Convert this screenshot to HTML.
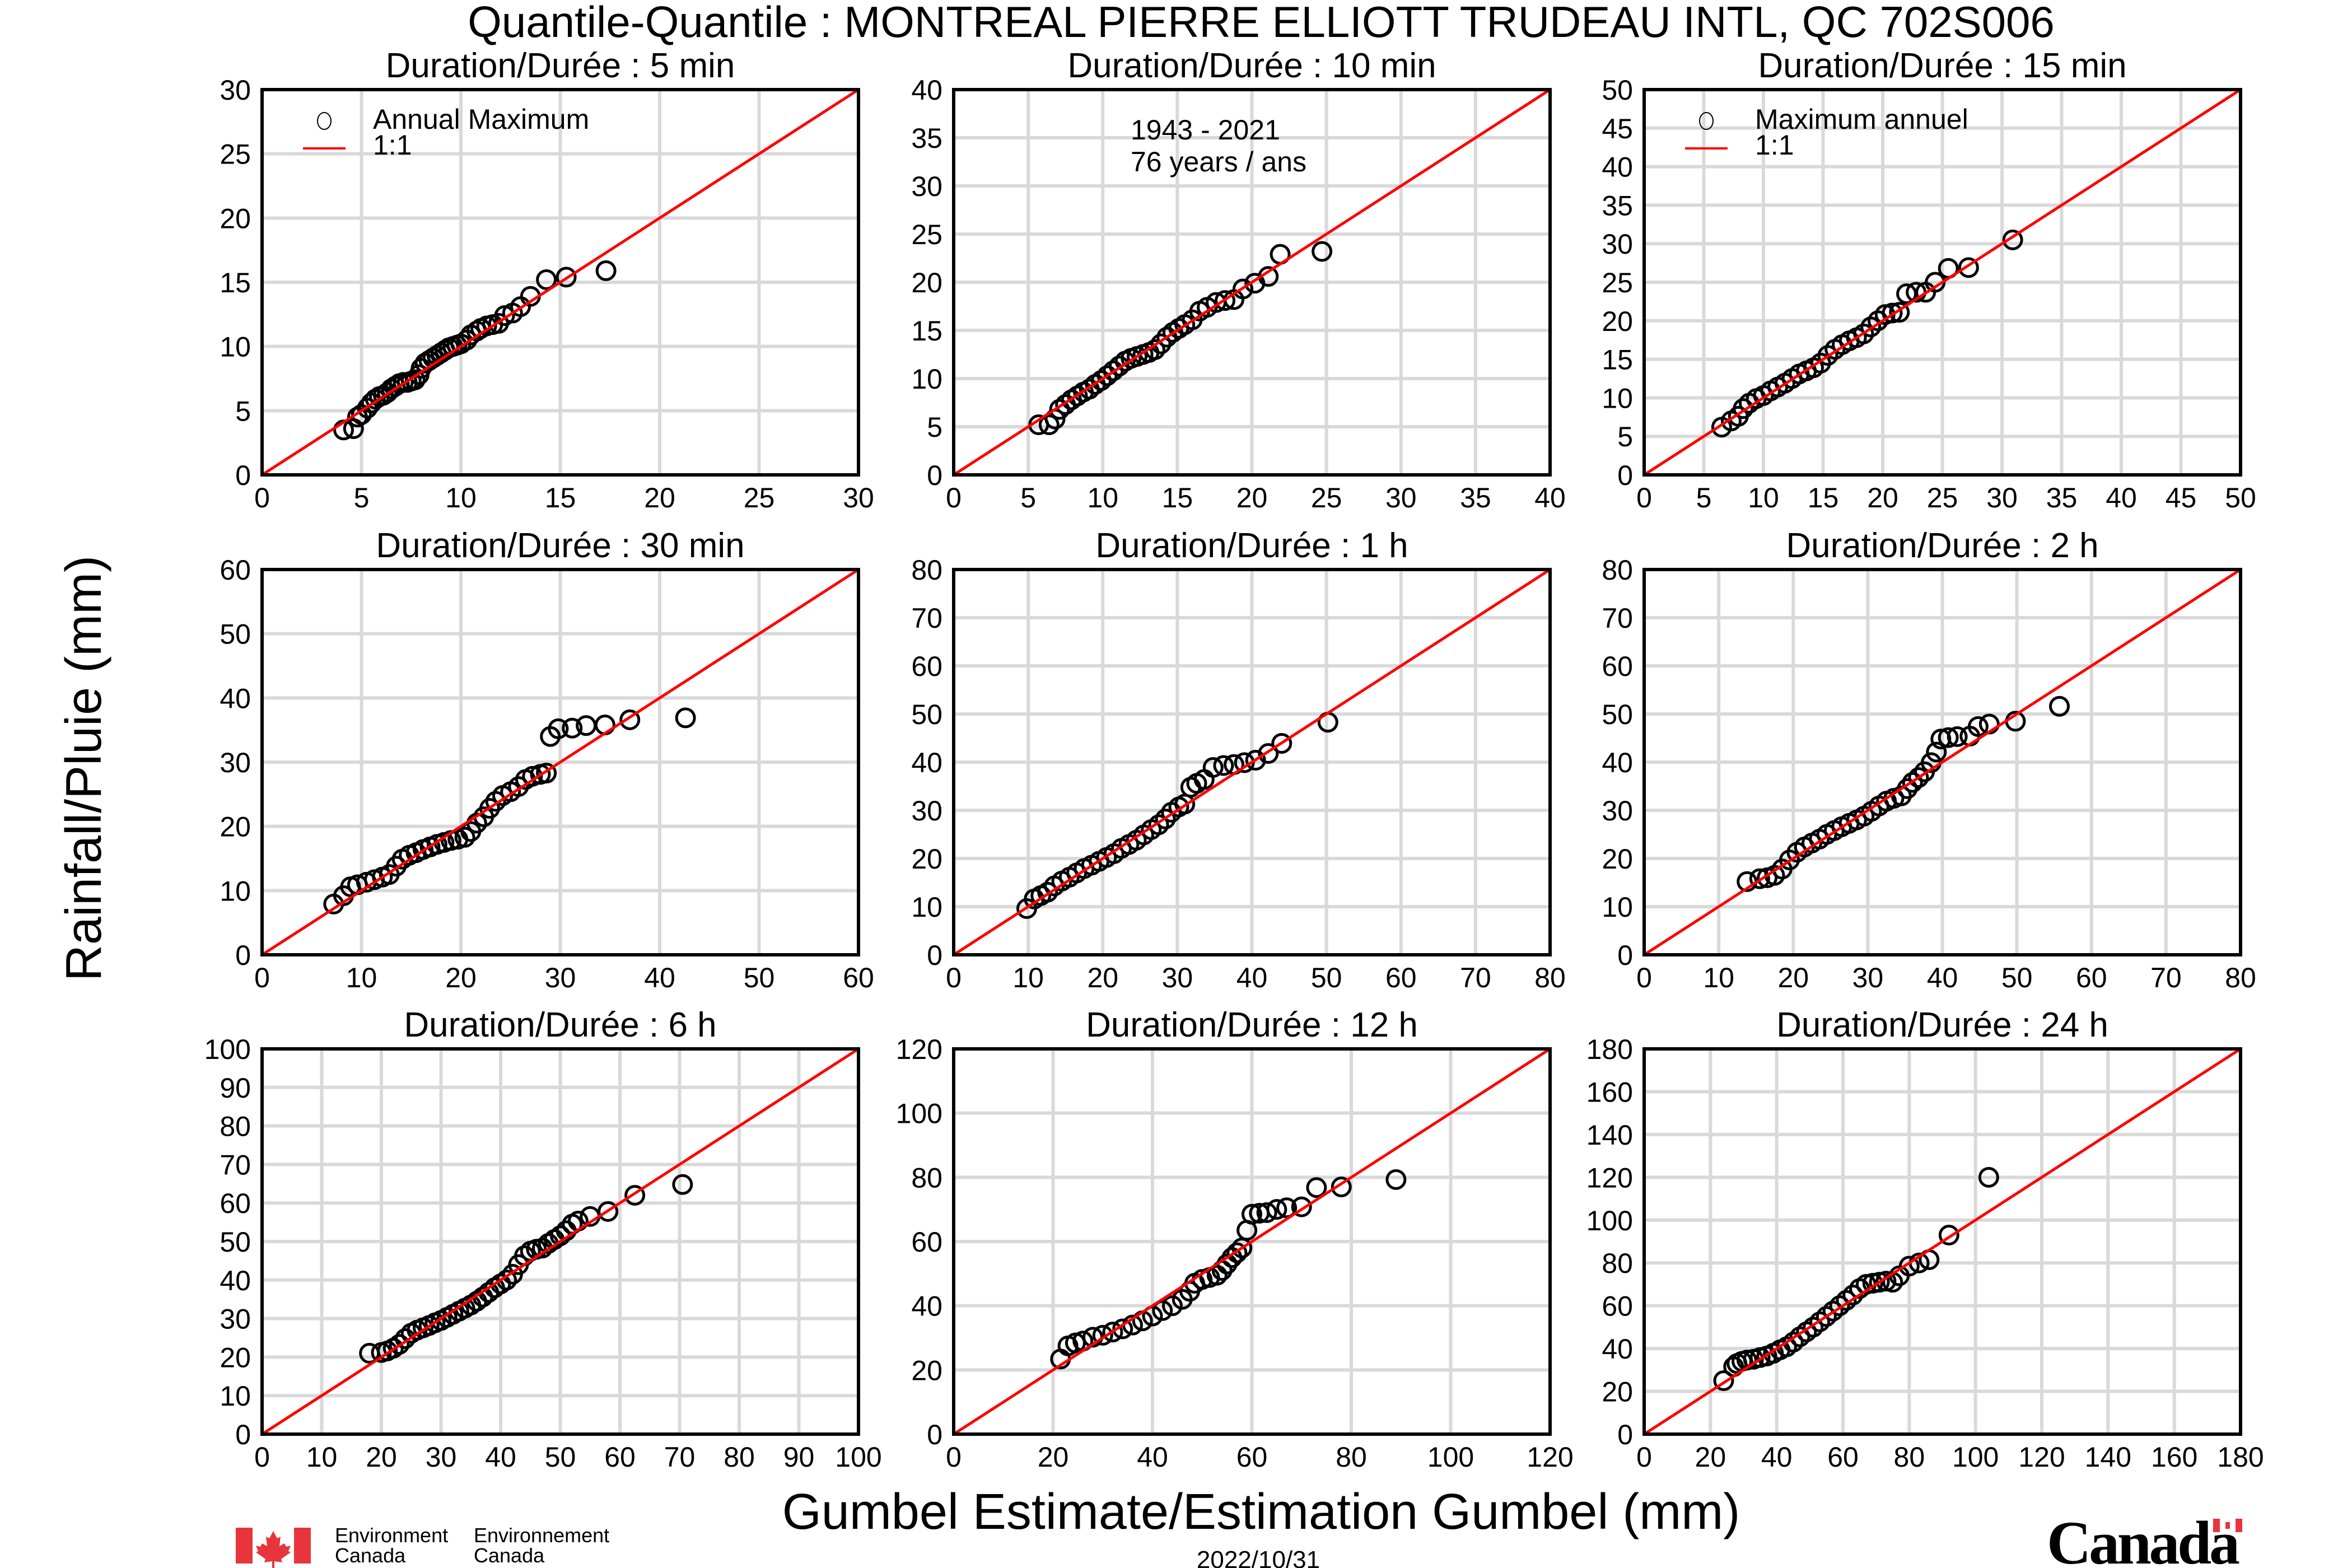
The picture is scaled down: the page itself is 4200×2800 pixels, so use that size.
<!DOCTYPE html>
<html><head><meta charset="utf-8"><style>
html,body{margin:0;padding:0;background:#fff}
svg{display:block}
text{font-family:"Liberation Sans",sans-serif;fill:#000}
</style></head><body>
<svg id="chart" xmlns="http://www.w3.org/2000/svg" width="4200" height="2800" viewBox="0 0 4200 2800">
<rect width="4200" height="2800" fill="#fff"/>
<text x="2252" y="66" font-size="78" text-anchor="middle">Quantile-Quantile : MONTREAL PIERRE ELLIOTT TRUDEAU INTL, QC  702S006</text>
<text x="0" y="0" font-size="90" text-anchor="middle" transform="translate(180,1372) rotate(-90)">Rainfall/Pluie (mm)</text>
<text x="2252" y="2730" font-size="90" text-anchor="middle">Gumbel Estimate/Estimation Gumbel (mm)</text>
<text x="2247" y="2800" font-size="44" text-anchor="middle">2022/10/31</text>
<g>
<rect x="421" y="2728" width="30" height="64" fill="#e8353b"/>
<rect x="525" y="2728" width="30" height="64" fill="#e8353b"/>
<path d="M488 2734 l-7 13 -6 -3 2 17 -9 -5 -3 6 -8 -2 4 10 -4 2 17 12 -2 6 14 -2 0 12 4 0 0 -12 14 2 -2 -6 17 -12 -4 -2 4 -10 -8 2 -3 -6 -9 5 2 -17 -6 3z" fill="#e8353b"/>
<text x="598" y="2754" font-size="36">Environment</text>
<text x="598" y="2790" font-size="36">Canada</text>
<text x="846" y="2754" font-size="36">Environnement</text>
<text x="846" y="2790" font-size="36">Canada</text>
</g>
<g>
<text x="3655" y="2792" font-size="110" style="font-family:'Liberation Serif',serif" font-weight="bold" textLength="345">Canada</text>
<rect x="3952" y="2712" width="12" height="24" fill="#e8353b"/>
<rect x="3992" y="2712" width="12" height="24" fill="#e8353b"/>
<rect x="3974" y="2718" width="8" height="12" fill="#e8353b"/>
</g>
<g id="panels"></g>
</svg>
<script>
const titles=["5 min","10 min","15 min","30 min","1 h","2 h","6 h","12 h","24 h"];
const axisMax=[30,40,50,60,80,80,100,120,180];
const tickStep=[5,5,5,10,10,10,10,20,20];
const x5=[4.1,4.6,4.8,5.0,5.3,5.5,5.7,5.9,6.1,6.3,6.5,6.7,6.9,7.1,7.3,7.5,7.7,7.9,8.0,8.2,8.4,8.6,8.8,9.0,9.2,9.4,9.6,9.8,10.0,10.3,10.5,10.8,11.0,11.3,11.6,11.9,12.2,12.6,13.0,13.5,14.3,15.3,17.3];
const y5=[3.5,3.6,4.5,4.7,5.2,5.6,5.9,6.1,6.2,6.4,6.7,6.9,7.1,7.2,7.2,7.3,7.4,7.8,8.3,8.7,8.9,9.1,9.3,9.5,9.7,9.9,10.0,10.1,10.2,10.5,10.9,11.2,11.4,11.6,11.7,11.8,12.4,12.6,13.1,13.9,15.2,15.4,15.9];
const x10=[5.7,6.4,6.8,7.1,7.5,7.9,8.3,8.7,9.1,9.5,9.9,10.3,10.7,11.1,11.5,11.9,12.3,12.7,13.1,13.5,13.9,14.3,14.7,15.1,15.5,16.0,16.5,17.0,17.6,18.2,18.8,19.4,20.2,21.1,21.9,24.7];
const y10=[5.2,5.2,5.8,6.8,7.3,7.8,8.2,8.6,8.9,9.4,9.8,10.3,10.8,11.3,11.8,12.1,12.3,12.5,12.7,13.0,13.6,14.3,14.8,15.2,15.6,16.1,17.0,17.4,17.9,18.1,18.2,19.3,19.9,20.6,22.9,23.2];
const x15=[6.5,7.3,7.9,8.3,8.8,9.4,10.0,10.6,11.2,11.8,12.4,13.0,13.6,14.2,14.8,15.4,16.0,16.6,17.2,17.8,18.4,19.0,19.6,20.2,20.8,21.4,22.0,22.8,23.6,24.4,25.5,27.2,30.9];
const y15=[6.2,7.0,7.6,8.6,9.3,9.9,10.3,10.9,11.4,11.9,12.5,13.1,13.5,13.9,14.5,15.5,16.3,16.9,17.4,17.8,18.3,19.2,20.0,20.8,21.0,21.1,23.5,23.7,23.7,25.0,26.8,26.9,30.5];
const x30=[7.2,8.2,8.9,9.6,10.5,11.3,12.1,12.8,13.5,14.1,14.8,15.5,16.2,16.9,17.6,18.3,19.0,19.7,20.4,21.0,21.6,22.3,22.9,23.5,24.2,25.0,25.8,26.5,27.2,28.0,28.6,29.0,29.8,31.2,32.6,34.5,37.0,42.6];
const y30=[7.9,9.2,10.6,10.9,11.3,11.7,12.1,12.5,13.8,14.9,15.5,15.9,16.4,16.8,17.2,17.5,17.8,18.0,18.3,19.2,20.5,21.5,22.8,23.9,24.8,25.4,26.2,27.3,27.8,28.1,28.3,34.0,35.2,35.3,35.7,35.8,36.6,36.9];
const x1h=[9.8,10.8,11.7,12.6,13.5,14.5,15.5,16.5,17.5,18.5,19.5,20.5,21.5,22.5,23.5,24.5,25.5,26.5,27.5,28.4,29.2,30.2,31.0,31.8,32.6,33.6,34.8,36.2,37.6,39.0,40.5,42.2,44.0,50.2];
const y1h=[9.6,11.6,12.3,13.0,14.3,15.3,16.1,17.0,17.9,18.6,19.4,20.2,21.0,22.1,22.9,23.8,24.9,26.0,27.0,28.2,29.6,30.7,31.3,34.8,35.6,36.4,38.9,39.3,39.5,39.9,40.4,41.8,43.9,48.3];
const x2h=[13.8,15.5,16.5,17.5,18.5,19.5,20.5,21.5,22.5,23.5,24.5,25.5,26.5,27.5,28.5,29.5,30.5,31.5,32.5,33.5,34.5,35.3,36.0,36.8,37.6,38.5,39.2,39.8,40.8,42.0,43.7,44.8,46.3,49.8,55.7];
const y2h=[15.2,15.8,16.0,16.5,17.8,19.7,21.3,22.4,23.2,24.0,25.0,25.8,26.6,27.3,28.0,28.8,29.8,30.9,31.9,32.5,33.0,34.5,35.8,36.8,38.0,39.9,42.1,44.8,45.1,45.3,45.4,47.4,47.9,48.5,51.6];
const x6h=[18,20,21,22,23,24,25,26,27,28,29,30,31,32,33,34,35,36,37,38,39,40,41,42,43,44,45,46,47,48,49,50,51,52,53,55,58,62.5,70.5];
const y6h=[21,21.2,21.6,22.3,23.3,24.8,26.2,27.0,27.6,28.2,28.9,29.5,30.3,31.1,31.9,32.7,33.5,34.5,35.6,36.8,38.0,39.0,40.0,41.5,44.0,46.3,47.5,48.0,48.3,49.5,50.5,51.5,52.8,54.5,55.3,56.5,57.8,62.0,64.8];
const x12h=[21.5,23.0,24.5,26,28,30,32,34,36,38,40,42,44,46,47.5,48.5,50,51.5,53,54,55,56,57,58,59,60,61.5,63,65,67,70,73,78,89];
const y12h=[23.4,27.5,28.4,29.0,30.2,30.8,31.8,32.8,34.0,35.3,36.8,38.5,40.0,42.0,44.5,47.0,48.2,48.8,49.5,51.0,53.0,55.0,56.5,58.0,63.5,68.5,68.8,69.0,70.0,70.5,70.8,76.8,77.0,79.3];
const x24h=[24,27,28,29.5,31,33,35,37,39,41,43,45,47,49,51,53,55,57,59,61,63,65,67,69,71,73,75,77,80,83,86,92,104];
const y24h=[25,31.5,33,34,34.6,35,35.8,36.5,37.8,39.4,40.8,43,45.5,47.8,50,52.5,55,57.5,60,62.5,65,68,70,70.5,71,71.5,71,74,78.5,80,81.5,93,120];
const xsData=[x5,x10,x15,x30,x1h,x2h,x6h,x12h,x24h];
const ysData=[y5,y10,y15,y30,y1h,y2h,y6h,y12h,y24h];
const colLeft=[468,1703,2936], rowTop=[160,1017,1873], W=1065, H=688;
const NS="http://www.w3.org/2000/svg";
const root=document.getElementById('panels');
function mk(tag,attrs,parent){const e=document.createElementNS(NS,tag);for(const k in attrs)e.setAttribute(k,attrs[k]);parent.appendChild(e);return e;}
for(let p=0;p<9;p++){
  const L=colLeft[p%3],T=rowTop[Math.floor(p/3)],max=axisMax[p],st=tickStep[p];
  const sx=v=>L+v/max*W, sy=v=>T+H-v/max*H;
  const g=mk('g',{},root);
  
  
  const t=mk('text',{x:L+W/2,y:T-22,'font-size':62,'text-anchor':'middle'},g);
  t.textContent='Duration/Durée : '+titles[p];
  
  
  for(let v=0;v<=max+1e-9;v+=st){
    const gl=mk('line',{x1:sx(v),x2:sx(v),y1:T,y2:T+H,stroke:'#d9d9d9','stroke-width':6},g);
    
    
    const hl=mk('line',{x1:L,x2:L+W,y1:sy(v),y2:sy(v),stroke:'#d9d9d9','stroke-width':6},g);
    
    
    const xt=mk('text',{x:sx(v),y:T+H+58,'font-size':50,'text-anchor':'middle'},g);
    xt.textContent=v;
    
    
    const yt=mk('text',{x:L-20,y:sy(v)+18,'font-size':50,'text-anchor':'end'},g);
    yt.textContent=v;
    
    
  }
  const xs=xsData[p],ys=ysData[p];
  for(let i=0;i<xs.length;i++){
    const c=mk('circle',{cx:sx(xs[i]),cy:sy(ys[i]),r:16,fill:'none',stroke:'#000','stroke-width':5},g);
    
    
  }
  const ln=mk('line',{x1:sx(0),y1:sy(0),x2:sx(max),y2:sy(max),stroke:'#f00','stroke-width':5},g);
  
  
  const box=mk('rect',{x:L,y:T,width:W,height:H,fill:'none',stroke:'#000','stroke-width':6},g);
  
  
  if(p===0||p===2){
    const lg=mk('g',{},g);
    
    
    mk('ellipse',{cx:L+111,cy:T+56,rx:12,ry:15,fill:'none',stroke:'#000','stroke-width':2},lg);
    const a=mk('text',{x:L+198,y:T+70,'font-size':50},lg);
    a.textContent=p===0?'Annual Maximum':'Maximum annuel';
    mk('line',{x1:L+73,x2:L+149,y1:T+105,y2:T+105,stroke:'#f00','stroke-width':4},lg);
    const b=mk('text',{x:L+198,y:T+116,'font-size':50},lg);
    b.textContent='1:1';
  }
  if(p===1){
    const a=mk('text',{x:L+316,y:T+89,'font-size':50},g);
    a.textContent='1943 - 2021';
    
    
    const b=mk('text',{x:L+316,y:T+146,'font-size':50},g);
    b.textContent='76 years / ans';
    
    
  }
}
</script>
</body></html>
